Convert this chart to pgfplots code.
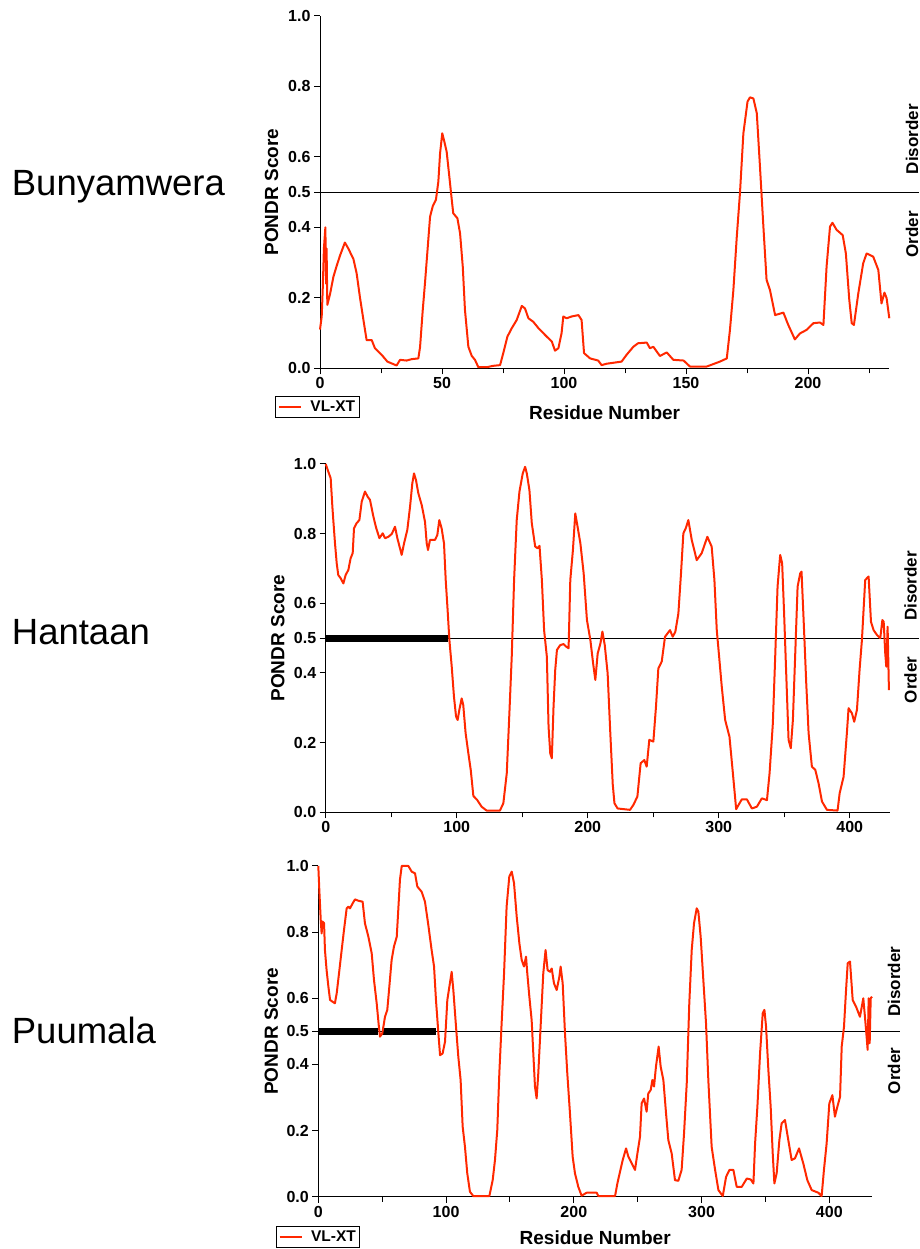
\documentclass[border=0pt]{standalone}
\usepackage{pgfplots}
\pgfplotsset{compat=1.18}
\usepackage{fontspec}
\setmainfont{Liberation Sans}
\definecolor{pondr}{RGB}{255,40,0}
\tikzset{side/.style={rotate=90, font=\fontsize{17bp}{19bp}\selectfont\bfseries, anchor=center, inner sep=0pt}}
\begin{document}
\begin{tikzpicture}
\useasboundingbox (0,0) rectangle (920bp,1249bp);
\pgfplotsset{
  panel/.style={
    scale only axis, clip=false,
    axis x line*=bottom, axis y line*=left,
    axis line style={-, line width=1bp, black},
    tick align=outside, major tick length=6bp, minor tick length=5bp,
    every tick/.style={black, line width=1bp},
    ymin=0, ymax=1, ytick={0,0.2,0.4,0.5,0.6,0.8,1},
    yticklabel style={/pgf/number format/fixed, /pgf/number format/fixed zerofill, /pgf/number format/precision=1},
    /pgf/number format/assume math mode=true,
    tick label style={font=\fontsize{16bp}{18bp}\selectfont\bfseries},
    every axis y label/.style={at={(axis description cs:-0.085,0.5)}, rotate=90, anchor=center,
      font=\fontsize{19bp}{21bp}\selectfont\bfseries},
    legend image code/.code={\draw[#1, line width=2bp] (0bp,0bp) -- (22bp,0bp);},
    legend style={draw=black, line width=0.8bp, inner xsep=2.5bp, inner ysep=3bp,
      nodes={inner sep=1.5bp},
      /tikz/every odd column/.append style={column sep=7bp},
      font=\fontsize{15.5bp}{16bp}\selectfont\bfseries, cells={anchor=west}, anchor=north west},
  },
  xlab/.style={every axis x label/.style={at={(axis description cs:0.5,#1)}, anchor=center,
      font=\fontsize{19bp}{21bp}\selectfont\bfseries}},
  curve/.style={pondr, line width=2bp, line join=round},
}
\node[anchor=base west, inner sep=0pt, font=\fontsize{36.5bp}{38bp}\selectfont] at (11.7bp,1053bp) {Bunyamwera};
\node[anchor=base west, inner sep=0pt, font=\fontsize{36.5bp}{38bp}\selectfont] at (11.7bp,604bp) {Hantaan};
\node[anchor=base west, inner sep=0pt, font=\fontsize{36.5bp}{38bp}\selectfont] at (11.7bp,205bp) {Puumala};

% Panel 1
\begin{axis}[panel, at={(320bp,880.7bp)}, anchor=south west, width=569.3bp, height=352.3bp,
  xmin=0, xmax=233.3, xtick={0,50,...,200}, minor xtick={25,75,...,225},
  xlabel={Residue Number}, ylabel={PONDR Score}, xlab=-0.127,
  legend style={at={(axis description cs:-0.079,-0.078)}}]
\addplot[black, line width=0.9bp, forget plot] coordinates {(0,0.5) (245.5,0.5)};
\addplot[curve] table {
0 0.11
0.7 0.147
1.1 0.22
1.6 0.34
2.2 0.40
2.5 0.24
2.7 0.34
3.0 0.18
4.1 0.21
5.5 0.26
6.8 0.29
8.2 0.32
10.2 0.357
11.6 0.34
13.7 0.31
15 0.27
16.4 0.20
17.8 0.137
19.1 0.08
21.2 0.08
22.5 0.057
25.3 0.038
27.6 0.019
30 0.012
31.4 0.008
32.8 0.024
35.5 0.022
37.6 0.026
40.3 0.028
41 0.06
42.1 0.165
43 0.24
44 0.33
45.1 0.43
46.2 0.46
47.5 0.478
48.5 0.53
49.2 0.61
50.1 0.667
50.8 0.648
51.9 0.615
53 0.544
54 0.478
54.6 0.44
56.3 0.426
57.4 0.383
58.5 0.289
59.4 0.166
60.8 0.061
62.2 0.035
63.5 0.024
64.9 0.003
68.3 0.003
71 0.007
73.8 0.009
75.1 0.043
76.8 0.09
78.6 0.114
80.6 0.137
82.7 0.177
84 0.17
85.4 0.142
87.4 0.132
89.5 0.114
92.9 0.09
95 0.076
96.3 0.05
97.7 0.057
99 0.10
99.7 0.147
101.1 0.142
103.1 0.147
105.9 0.151
107.2 0.137
108.2 0.043
110.7 0.028
114 0.022
115.4 0.009
117.5 0.013
123.6 0.019
125.6 0.038
128.4 0.061
130.3 0.071
133.9 0.073
135.2 0.057
136.6 0.061
139.3 0.035
142.1 0.045
144.8 0.024
149 0.022
151.6 0.005
158.5 0.005
161.2 0.012
163.9 0.019
166.7 0.028
168 0.109
169.4 0.222
170.8 0.374
172.1 0.497
173.5 0.667
175.2 0.757
176.2 0.769
177.6 0.766
179 0.724
180.3 0.572
181.7 0.402
183 0.251
184.4 0.222
186.5 0.151
189.9 0.158
191.9 0.123
194.6 0.082
196.7 0.099
199.4 0.109
202.2 0.128
204.9 0.13
206.3 0.123
207.6 0.289
209 0.402
210 0.413
211.7 0.393
214.2 0.378
215.5 0.326
216.9 0.194
217.9 0.128
218.8 0.123
220.6 0.213
222.6 0.298
224 0.326
226.7 0.317
228.8 0.279
230.1 0.184
231.3 0.215
232.2 0.199
233.3 0.142
};
\addlegendentry{VL-XT}
\node[side] at (axis cs:242.6,0.65) {Disorder};
\node[side] at (axis cs:242.6,0.38) {Order};
\end{axis}

% Panel 2
\begin{axis}[panel, at={(325.7bp,436.7bp)}, anchor=south west, width=564bp, height=348.3bp,
  xmin=0, xmax=430.5, xtick={0,100,...,400}, minor xtick={50,150,250,350},
  ylabel={PONDR Score}]
\addplot[black, line width=0.9bp, forget plot] coordinates {(0,0.5) (452.9,0.5)};
\addplot[black, line width=7bp, forget plot] coordinates {(0,0.5) (93,0.5)};
\addplot[curve] table {
0 1.0
2 0.978
3.8 0.959
5.1 0.877
5.8 0.839
7.1 0.772
8.4 0.715
9.6 0.681
11.4 0.672
13.5 0.657
15.2 0.681
17.3 0.696
19 0.729
20.6 0.744
21.6 0.815
23.6 0.83
25.7 0.839
27.5 0.892
30 0.921
32 0.906
33.8 0.897
36.4 0.849
38.4 0.818
41 0.787
43.5 0.801
45.3 0.787
47.8 0.791
50.4 0.799
52.9 0.82
54.7 0.787
58 0.739
59.8 0.772
62.3 0.811
64.4 0.878
66.1 0.944
67.4 0.973
68.9 0.954
70.7 0.916
73.3 0.882
75.8 0.834
77.1 0.772
78.1 0.753
79.6 0.782
83.4 0.782
85.2 0.796
86.7 0.839
88.5 0.815
90.3 0.772
91.6 0.667
92.9 0.59
94.4 0.495
96.2 0.418
97.9 0.332
99.5 0.275
100.7 0.265
102 0.294
103.8 0.327
105 0.308
106.8 0.227
108.9 0.169
110.7 0.122
112.7 0.047
115.7 0.035
119 0.016
122.8 0.005
133 0.005
135.6 0.026
138.2 0.112
140.2 0.284
142 0.447
143.8 0.667
145.8 0.839
147.9 0.921
150.4 0.973
152.2 0.992
153.5 0.973
155.5 0.925
157.3 0.83
159.9 0.763
161.7 0.758
163.2 0.765
165 0.667
166.7 0.523
168.8 0.447
170.1 0.246
171.4 0.169
172.6 0.155
173.9 0.303
175.2 0.409
176.5 0.466
179 0.48
181.6 0.483
183.4 0.476
185.4 0.471
186.7 0.667
188.7 0.753
190.5 0.858
191.8 0.83
194.4 0.772
196.9 0.686
199.4 0.552
202 0.495
204.1 0.428
205.8 0.38
207.6 0.456
209.7 0.485
211.2 0.519
213 0.48
215.2 0.399
217.2 0.23
219.1 0.08
220.4 0.026
222.8 0.011
232.3 0.007
234.8 0.021
237.9 0.045
240.4 0.141
243.2 0.15
245 0.131
247 0.208
250.1 0.203
252.1 0.303
253.9 0.413
256.5 0.433
259 0.504
262.8 0.523
264.9 0.504
266.9 0.519
269.2 0.571
271.2 0.686
273 0.801
274.8 0.815
276.8 0.839
279.4 0.782
283.2 0.724
287 0.744
291.3 0.791
294.6 0.763
296.7 0.667
298.5 0.523
300.3 0.447
302.3 0.361
304.9 0.265
308.2 0.217
310.8 0.112
313.3 0.009
315.1 0.021
317.6 0.037
321.5 0.037
325.3 0.011
329.1 0.016
332.9 0.04
336.8 0.035
338.8 0.112
341.3 0.255
343.1 0.447
344.9 0.648
346.9 0.739
348.4 0.715
349.9 0.571
351.5 0.399
353.3 0.208
355 0.184
356.6 0.265
358.4 0.456
360.2 0.648
362.2 0.686
363.2 0.691
364.8 0.552
366.8 0.37
368.6 0.227
371.1 0.131
373.7 0.122
376.2 0.083
378.8 0.031
382.6 0.007
390.7 0.005
392.3 0.055
395.3 0.102
397.8 0.227
399.1 0.299
401.7 0.284
403.4 0.26
405.5 0.294
407.5 0.409
409.3 0.495
411.8 0.667
414.4 0.677
416.2 0.547
418.2 0.523
420.8 0.509
423.3 0.5
424.9 0.552
425.9 0.547
427.1 0.456
427.9 0.418
428.9 0.533
429.9 0.351
};
\node[side] at (axis cs:446.5,0.65) {Disorder};
\node[side] at (axis cs:446.5,0.38) {Order};
\end{axis}

% Panel 3
\begin{axis}[panel, at={(318.3bp,52.3bp)}, anchor=south west, width=553.8bp, height=330.7bp,
  xmin=0, xmax=433.5, xtick={0,100,...,400}, minor xtick={50,150,250,350},
  xlabel={Residue Number}, ylabel={PONDR Score}, xlab=-0.125,
  legend style={at={(axis description cs:-0.077,-0.0877)}}]
\addplot[black, line width=0.9bp, forget plot] coordinates {(0,0.5) (455.3,0.5)};
\addplot[black, line width=7bp, forget plot] coordinates {(0,0.5) (47,0.5)};
\addplot[black, line width=7bp, forget plot] coordinates {(50,0.5) (92,0.5)};
\addplot[curve] table {
0 1.0
0.8 0.927
1.9 0.837
2.6 0.796
3.4 0.832
4.5 0.827
5.2 0.746
6.5 0.685
7.9 0.635
9.2 0.595
11 0.59
13 0.585
14.4 0.615
16.5 0.685
18.3 0.746
20.1 0.806
22.2 0.872
23.5 0.877
24.8 0.872
26.9 0.887
28.7 0.899
31.3 0.895
34.7 0.892
36.5 0.827
39.2 0.786
41.8 0.736
43.6 0.655
45.7 0.585
47.3 0.519
48.3 0.484
50.1 0.494
52.2 0.544
54 0.565
55.6 0.635
57.4 0.716
59.2 0.756
61.4 0.786
62.6 0.867
63.9 0.958
65.3 1.0
70.5 1.0
73.1 0.983
75.7 0.978
77.5 0.938
80.9 0.922
83.5 0.892
86.1 0.822
88.7 0.746
90.6 0.696
92.1 0.595
94 0.494
95.3 0.428
97.3 0.433
99.2 0.469
101 0.595
102.6 0.635
104.4 0.68
105.7 0.625
107.8 0.514
109.6 0.423
111.4 0.353
113 0.212
114.8 0.151
116.6 0.071
118.7 0.015
121.3 0.002
133.9 0.002
136.5 0.05
138.3 0.111
140.1 0.202
141.7 0.373
143.5 0.524
145.4 0.675
147.4 0.877
149.5 0.968
151.4 0.983
153.2 0.948
155.3 0.847
157.4 0.766
159.2 0.716
161 0.696
162.6 0.726
163.6 0.675
165.2 0.605
167 0.534
168.3 0.433
169.6 0.333
170.9 0.297
172.2 0.373
173.5 0.474
174.8 0.575
176.1 0.675
177.9 0.746
179.5 0.685
181.4 0.68
182.7 0.69
184.5 0.645
186.6 0.625
188.7 0.665
189.7 0.696
191.3 0.645
193.1 0.494
194.9 0.373
197 0.252
199.1 0.121
200.9 0.071
203.5 0.03
206.1 0.003
210 0.012
217.9 0.012
219.2 0.002
232.3 0.002
234.1 0.04
236.2 0.076
238.3 0.111
240.9 0.146
242.7 0.121
245.3 0.101
247.9 0.081
249.8 0.131
251.8 0.181
253.1 0.282
255 0.297
257 0.257
258.3 0.312
260.2 0.323
261.5 0.353
262.8 0.333
264.3 0.393
266.4 0.454
268 0.393
270.1 0.353
272.2 0.252
274 0.171
276.6 0.131
279.2 0.05
281.8 0.048
284.4 0.081
286.3 0.192
288.4 0.343
290.4 0.585
292.3 0.746
294.1 0.827
296.2 0.872
297.5 0.862
299.3 0.786
301.4 0.655
303.5 0.524
305.3 0.353
307.9 0.151
310.6 0.081
313.2 0.02
316.6 0.002
319.2 0.06
321.8 0.081
324.9 0.081
327.5 0.03
331.5 0.03
335.4 0.055
338.5 0.052
340.6 0.04
341.9 0.161
343.7 0.272
345.8 0.434
347.9 0.555
349.2 0.565
350.5 0.514
352.3 0.383
354.1 0.272
355.7 0.131
357 0.04
358.8 0.071
360.9 0.171
362.7 0.222
365.3 0.232
367.9 0.171
370.5 0.111
373.1 0.116
376.3 0.146
379.6 0.101
382.8 0.05
386.2 0.02
391.4 0.012
394 0.002
395.8 0.081
397.9 0.161
400 0.282
402.4 0.307
404.4 0.242
406.3 0.272
408.4 0.302
409.7 0.454
411.5 0.514
413.1 0.625
414.4 0.706
416.2 0.711
418.3 0.595
420.9 0.575
424 0.544
426.6 0.6
427.9 0.544
429.2 0.484
430 0.444
430.8 0.6
431.6 0.464
432.4 0.6
433.4 0.605
};
\addlegendentry{VL-XT}
\node[side] at (axis cs:450.6,0.65) {Disorder};
\node[side] at (axis cs:450.6,0.38) {Order};
\end{axis}
\end{tikzpicture}
\end{document}
